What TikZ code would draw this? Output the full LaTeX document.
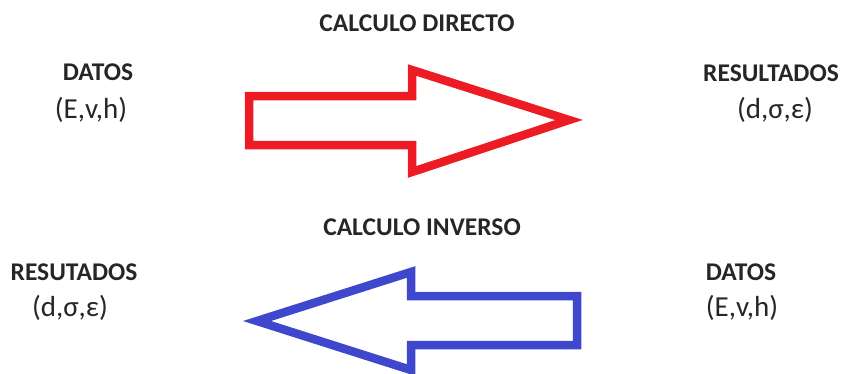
\documentclass[tikz,border=0pt]{standalone}
\usepackage{fontspec}
\setmainfont{Carlito}
\definecolor{arrred}{HTML}{ED1C24}
\definecolor{arrblue}{HTML}{3F48CC}
\begin{document}
\begin{tikzpicture}[x=1pt,y=-1pt,
  title/.style={font=\fontsize{25.5}{28}\selectfont\bfseries, inner sep=0pt, text=black!85},
  lbl/.style={font=\fontsize{25.5}{28}\selectfont\bfseries, inner sep=0pt, text=black!85},
  val/.style={font=\fontsize{29}{31}\selectfont, inner sep=0pt, text=black!85},
  bigarrow/.style={line width=8.5pt, line join=miter, fill=white}]
\useasboundingbox (0,0) rectangle (845,373);
% titles
\node[title] (t1) at (417,23) {CALCULO DIRECTO};
\node[title] (t2) at (422,227) {CALCULO INVERSO};
% top row
\node[lbl] (d1) at (98,72) {DATOS};
\node[val] (d1v) at (91,110) {(E,v,h)};
\node[lbl] (r1) at (771,73) {RESULTADOS};
\node[val] (r1v) at (775,110) {(d,σ,ε)};
% bottom row
\node[lbl] (r2) at (74,272) {RESUTADOS};
\node[val] (r2v) at (70,308) {(d,σ,ε)};
\node[lbl] (d2) at (741,272) {DATOS};
\node[val] (d2v) at (742,308) {(E,v,h)};
% red arrow (direct)
\draw[bigarrow, draw=arrred] (249,96) -- (412,96) -- (412,70) -- (569,120) -- (412,172) -- (412,145) -- (249,145) -- cycle;
% blue arrow (inverse)
\draw[bigarrow, draw=arrblue] (577,296) -- (411,296) -- (411,272) -- (257,321) -- (411,370) -- (411,345) -- (577,345) -- cycle;
\end{tikzpicture}
\end{document}
